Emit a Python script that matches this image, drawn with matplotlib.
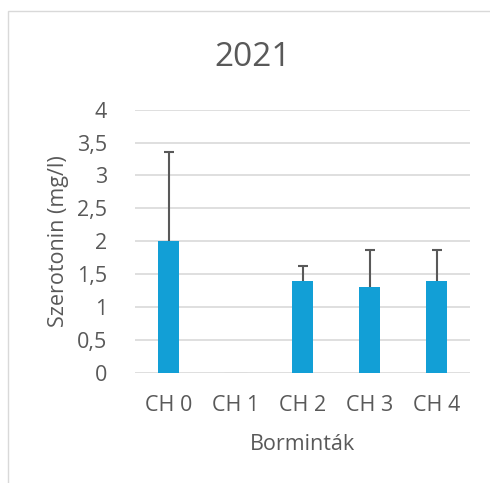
import matplotlib
matplotlib.use("Agg")
import matplotlib.pyplot as plt
from matplotlib.ticker import FuncFormatter
from matplotlib.patches import Rectangle

categories = ["CH 0", "CH 1", "CH 2", "CH 3", "CH 4"]
values = [2.0, 0.0, 1.4, 1.3, 1.4]
errors = [1.35, 0.0, 0.22, 0.57, 0.47]

plt.rcParams['font.family'] = ['Open Sans', 'DejaVu Sans']
txt = '#595959'

fig = plt.figure(figsize=(4.9, 4.83), dpi=100)
ax = fig.add_axes([135/490, 1-372.7/483, 335/490, 263/483])

x = list(range(len(categories)))
ax.bar(x, values, width=0.31, color='#129fd6', zorder=3)
ex = [xi for xi, e in zip(x, errors) if e > 0]
ev = [v for v, e in zip(values, errors) if e > 0]
ee = [e for e in errors if e > 0]
eb = ax.errorbar(ex, ev, yerr=[[0]*len(ee), ee], fmt='none',
                 ecolor='#595959', elinewidth=1.5, capsize=3.5, capthick=1.5, zorder=4)
# hide the lower caps (plus-only error bars)
caps = eb[1]
if len(caps) == 2:
    caps[0].set_visible(False)
ax.plot([0.85, 1.15], [0, 0], color='#bfbfbf', lw=0.8, zorder=3)

ax.set_xlim(-0.5, 4.5)
ax.set_ylim(0, 4)
ax.set_yticks([0, 0.5, 1, 1.5, 2, 2.5, 3, 3.5, 4])
ax.yaxis.set_major_formatter(FuncFormatter(lambda v, p: ('%g' % v).replace('.', ',')))
ax.set_xticks(x)
ax.set_xticklabels(categories)
ax.grid(axis='y', color='#d9d9d9', linewidth=1.2, zorder=0)
for s in ax.spines.values():
    s.set_visible(False)
ax.tick_params(length=0, labelsize=15.5, colors=txt)
ax.tick_params(axis='y', pad=20)
ax.tick_params(axis='x', pad=16)

ax.set_ylabel('Szerotonin (mg/l)', fontsize=15.5, color=txt, labelpad=6)
ax.set_xlabel('Borminták', fontsize=15.5, color=txt, labelpad=13)
fig.text(253/490, 1-57/483, '2021', fontsize=24, color=txt, ha='center', va='center')

fig.add_artist(Rectangle((8/490, -0.1), 1.2, 1-11/483+0.1, transform=fig.transFigure,
                         fill=False, edgecolor='#d9d9d9', linewidth=1))

fig.savefig('out.png', dpi=100, facecolor='white')
